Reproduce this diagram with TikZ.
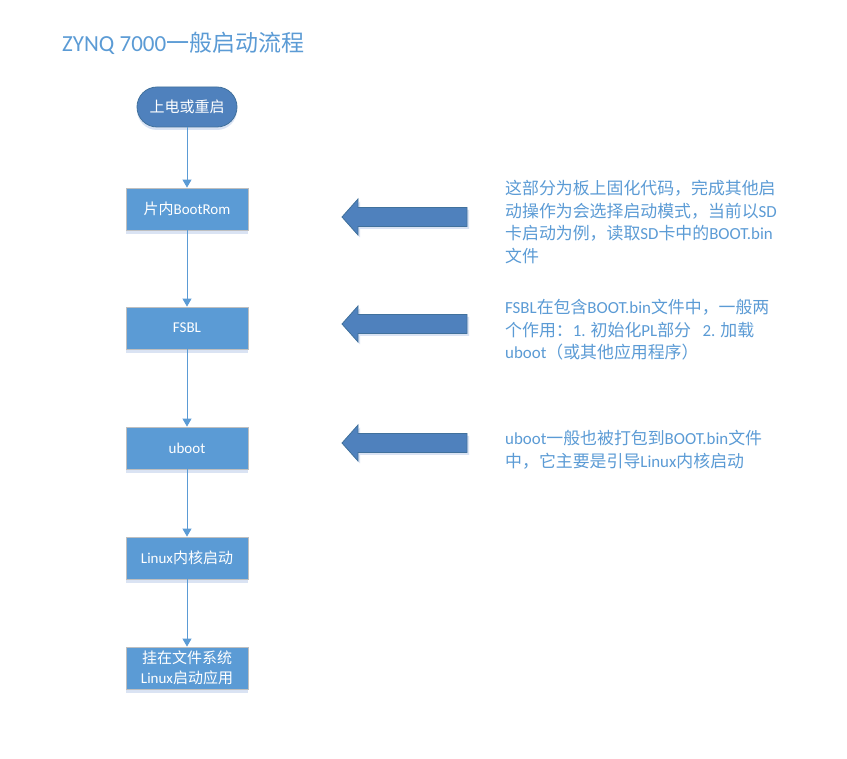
\documentclass[tikz,border=0pt]{standalone}
\usepackage{fontspec}
\setmainfont{Carlito}
\newfontfamily\cjk{Noto Sans CJK SC}
\usetikzlibrary{arrows.meta}
\definecolor{boxblue}{HTML}{5B9BD5}
\definecolor{startblue}{HTML}{4F81BD}
\definecolor{startedge}{HTML}{41719C}
\definecolor{boxedge}{HTML}{BFBFBF}
\definecolor{shadowblue}{HTML}{DAE3F3}
\definecolor{txtblue}{HTML}{5B9BD5}
\begin{document}
\begin{tikzpicture}[x=1pt,y=-1pt,
  flowbox/.style={rectangle, fill=boxblue, draw=boxedge, line width=0.8pt,
    minimum width=122pt, minimum height=42pt, inner sep=0pt, text=white,
    font=\fontsize{15}{20}\selectfont, align=center,
    preaction={fill=shadowblue, transform canvas={yshift=-4pt}}},
  startbox/.style={rectangle, rounded corners=20pt, fill=startblue, draw=startedge,
    line width=0.8pt, minimum width=100pt, minimum height=40pt, inner sep=0pt,
    text=white, font=\fontsize{15}{18}\selectfont,
    preaction={fill=shadowblue, transform canvas={yshift=-3pt}}},
  conn/.style={draw=boxblue, line width=0.9pt, -{Triangle[width=9pt,length=8pt]}},
  note/.style={inner sep=0pt, text=txtblue, align=left, anchor=north west,
    font=\fontsize{16.9}{22.5}\selectfont},
  bigarrow/.pic={
    \fill[shadowblue] (-123,2.5) -- (-107,-15.5) -- (-107,-7) -- (2,-7) -- (2,12) -- (-107,12) -- (-107,20.5) -- cycle;
    \draw[fill=startblue, draw=startedge, line width=0.8pt, line join=miter]
      (-125,0) -- (-109,-18) -- (-109,-9.5) -- (0,-9.5) -- (0,9.5) -- (-109,9.5) -- (-109,18) -- cycle;
  }
]
\fill[white] (0,0) rectangle (847,759);
\useasboundingbox (0,0) rectangle (847,759);

\node[anchor=west, inner sep=0pt, text=txtblue, font=\fontsize{23}{27}\selectfont] (title) at (62,43) {ZYNQ 7000{\cjk 一般启动流程}};

\node[startbox] (s) at (187,107) {{\cjk 上电或重启}};
\node[flowbox] (b1) at (187,209) {{\cjk 片内}BootRom};
\node[flowbox] (b2) at (187,328) {FSBL};
\node[flowbox] (b3) at (187,448) {uboot};
\node[flowbox] (b4) at (187,558) {Linux{\cjk 内核启动}};
\node[flowbox] (b5) at (187,668) {{\cjk 挂在文件系统}\\Linux{\cjk 启动应用}};

\draw[conn] (s) -- (b1);
\draw[conn] (b1) -- (b2);
\draw[conn] (b2) -- (b3);
\draw[conn] (b3) -- (b4);
\draw[conn] (b4) -- (b5);

\pic at (467,217) {bigarrow};
\pic at (467,324) {bigarrow};
\pic at (467,443) {bigarrow};

\node[note] (n1) at (505,180) {{\cjk 这部分为板上固化代码，完成其他启}\\{\cjk 动操作为会选择启动模式，当前以}SD\\{\cjk 卡启动为例，读取}SD{\cjk 卡中的}BOOT.bin\\{\cjk 文件}};
\node[note] (n2) at (505,299) {FSBL{\cjk 在包含}BOOT.bin{\cjk 文件中，一般两}\\{\cjk 个作用：}1. {\cjk 初始化}PL{\cjk 部分}\ \ \ 2. {\cjk 加载}\\uboot{\cjk （或其他应用程序）}};
\node[note] (n3) at (505,430) {uboot{\cjk 一般也被打包到}BOOT.bin{\cjk 文件}\\{\cjk 中，它主要是引导}Linux{\cjk 内核启动}};
\end{tikzpicture}
\end{document}
